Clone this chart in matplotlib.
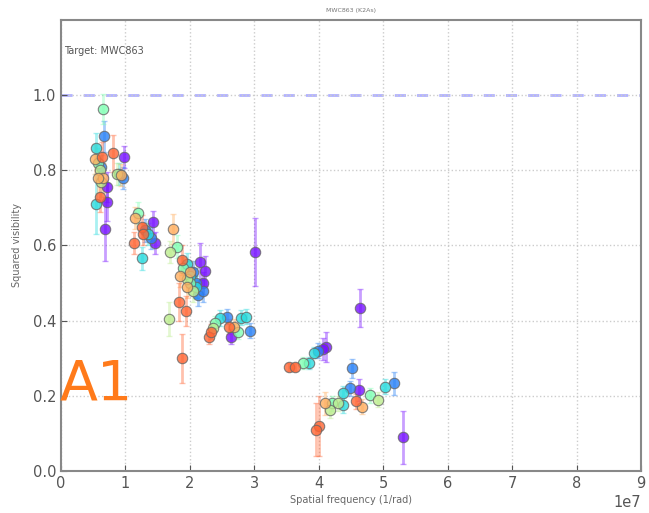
import matplotlib
matplotlib.use('Agg')
import matplotlib.pyplot as plt
import numpy as np

# spatial frequency in units of 1e7 (1/rad), squared visibility and its error,
# one group per spectral channel (colour)
purple_x = [0.98, 0.72, 0.71, 0.69, 1.43, 1.46, 2.16, 2.24, 2.20, 3.01, 2.64, 4.11, 4.07, 4.64, 4.62, 5.31]
purple_y = [0.836, 0.755, 0.716, 0.645, 0.663, 0.606, 0.557, 0.533, 0.50, 0.583, 0.357, 0.33, 0.325, 0.433, 0.215, 0.089]
purple_e = [0.03, 0.04, 0.05, 0.085, 0.03, 0.03, 0.05, 0.04, 0.03, 0.09, 0.02, 0.04, 0.03, 0.05, 0.03, 0.07]

blue_x = [0.67, 0.96, 0.62, 1.40, 1.30, 2.13, 2.10, 2.05, 2.57, 2.93, 3.98, 4.49, 4.51, 5.17, 2.20]
blue_y = [0.89, 0.78, 0.81, 0.62, 0.64, 0.468, 0.50, 0.53, 0.41, 0.373, 0.32, 0.22, 0.273, 0.233, 0.48]
blue_e = [0.04, 0.03, 0.03, 0.03, 0.03, 0.03, 0.04, 0.03, 0.02, 0.02, 0.02, 0.02, 0.025, 0.03, 0.03]

cyan_x = [0.55, 0.55, 0.90, 1.26, 1.35, 2.00, 2.10, 1.95, 2.47, 2.79, 2.87, 3.84, 3.92, 4.38, 4.38, 5.03]
cyan_y = [0.86, 0.71, 0.79, 0.566, 0.63, 0.52, 0.49, 0.55, 0.407, 0.408, 0.41, 0.287, 0.315, 0.207, 0.175, 0.224]
cyan_e = [0.04, 0.08, 0.03, 0.03, 0.03, 0.04, 0.03, 0.03, 0.02, 0.02, 0.02, 0.015, 0.015, 0.02, 0.02, 0.02]

aqua_x = [0.58, 0.65, 1.20, 1.80, 1.90, 2.00, 2.39, 2.74, 3.76, 4.20, 4.80]
aqua_y = [0.82, 0.963, 0.687, 0.597, 0.54, 0.50, 0.393, 0.37, 0.287, 0.18, 0.202]
aqua_e = [0.04, 0.04, 0.03, 0.03, 0.03, 0.03, 0.02, 0.02, 0.015, 0.02, 0.02]

lgreen_x = [0.87, 0.60, 1.69, 1.67, 1.95, 2.05, 2.35, 4.18, 4.30, 4.91, 0.62]
lgreen_y = [0.79, 0.80, 0.583, 0.404, 0.51, 0.48, 0.38, 0.162, 0.18, 0.19, 0.77]
lgreen_e = [0.03, 0.04, 0.03, 0.045, 0.03, 0.03, 0.02, 0.02, 0.02, 0.02, 0.04]

tan_x = [0.52, 0.93, 0.65, 1.15, 1.73, 1.85, 1.95, 2.00, 2.69, 4.10, 4.67, 0.58]
tan_y = [0.83, 0.787, 0.78, 0.673, 0.643, 0.52, 0.49, 0.53, 0.384, 0.18, 0.171, 0.78]
tan_e = [0.04, 0.03, 0.04, 0.03, 0.04, 0.03, 0.03, 0.03, 0.02, 0.03, 0.02, 0.04]

orange_x = [0.81, 0.63, 0.61, 1.13, 1.25, 1.27, 1.87, 1.83, 1.94, 1.87, 2.29, 2.32, 2.61, 3.54, 3.63, 4.00, 3.95, 4.58]
orange_y = [0.845, 0.836, 0.73, 0.606, 0.65, 0.63, 0.561, 0.449, 0.426, 0.30, 0.357, 0.37, 0.384, 0.277, 0.277, 0.12, 0.11, 0.186]
orange_e = [0.05, 0.04, 0.04, 0.03, 0.03, 0.03, 0.04, 0.05, 0.04, 0.065, 0.02, 0.02, 0.02, 0.01, 0.01, 0.08, 0.07, 0.02]

channels = [
  (purple_x, purple_y, purple_e, 0.02),
  (blue_x, blue_y, blue_e, 0.17),
  (cyan_x, cyan_y, cyan_e, 0.33),
  (aqua_x, aqua_y, aqua_e, 0.5),
  (lgreen_x, lgreen_y, lgreen_e, 0.62),
  (tan_x, tan_y, tan_e, 0.76),
  (orange_x, orange_y, orange_e, 0.87),
]

fig = plt.figure(figsize=(6.49, 5.13), dpi=100)
ax = fig.add_axes([0.094, 0.082, 0.894, 0.879])

for xs, ys, es, c in channels:
  col = plt.cm.rainbow(c)
  x = np.array(xs) * 1e7
  ax.errorbar(x, ys, yerr=es, fmt='none', ecolor=col, alpha=0.4,
              elinewidth=2, capsize=2.5, zorder=2)
  ax.plot(x, ys, 'o', color=col, alpha=0.8, markersize=7.5,
          markeredgecolor='#666666', markeredgewidth=0.8, zorder=3)

ax.axhline(1.0, color='#9090ff', linestyle='--', dashes=(4, 4), linewidth=2, alpha=0.7, zorder=1)

ax.set_xlim(0, 9e7)
ax.set_ylim(0, 1.2)
ax.set_yticks(np.arange(0, 1.01, 0.2))
ax.set_xticks(np.arange(0, 9.01, 1) * 1e7)
ax.grid(True, color='#cccccc', linestyle=':', linewidth=1)
ax.tick_params(direction='in', labelsize=10.5, colors='#555555', length=4)
for s in ax.spines.values():
  s.set_color('#888888')
  s.set_linewidth(1.5)
ax.xaxis.get_offset_text().set_fontsize(10.5)
ax.xaxis.get_offset_text().set_color('#555555')

ax.set_xlabel('Spatial frequency (1/rad)', fontsize=7, color='#666666', labelpad=3)
ax.set_ylabel('Squared visibility', fontsize=7, color='#666666', labelpad=8)
ax.set_title('MWC863 (K2As)', fontsize=4.5, color='#777777', pad=6)
ax.text(0.005, 0.925, 'Target: MWC863', transform=ax.transAxes, fontsize=7, color='#555555')

fig.text(0.092, 0.222, 'A1', fontsize=40, color='#ff7a1a')

fig.savefig('out.png', dpi=100)
